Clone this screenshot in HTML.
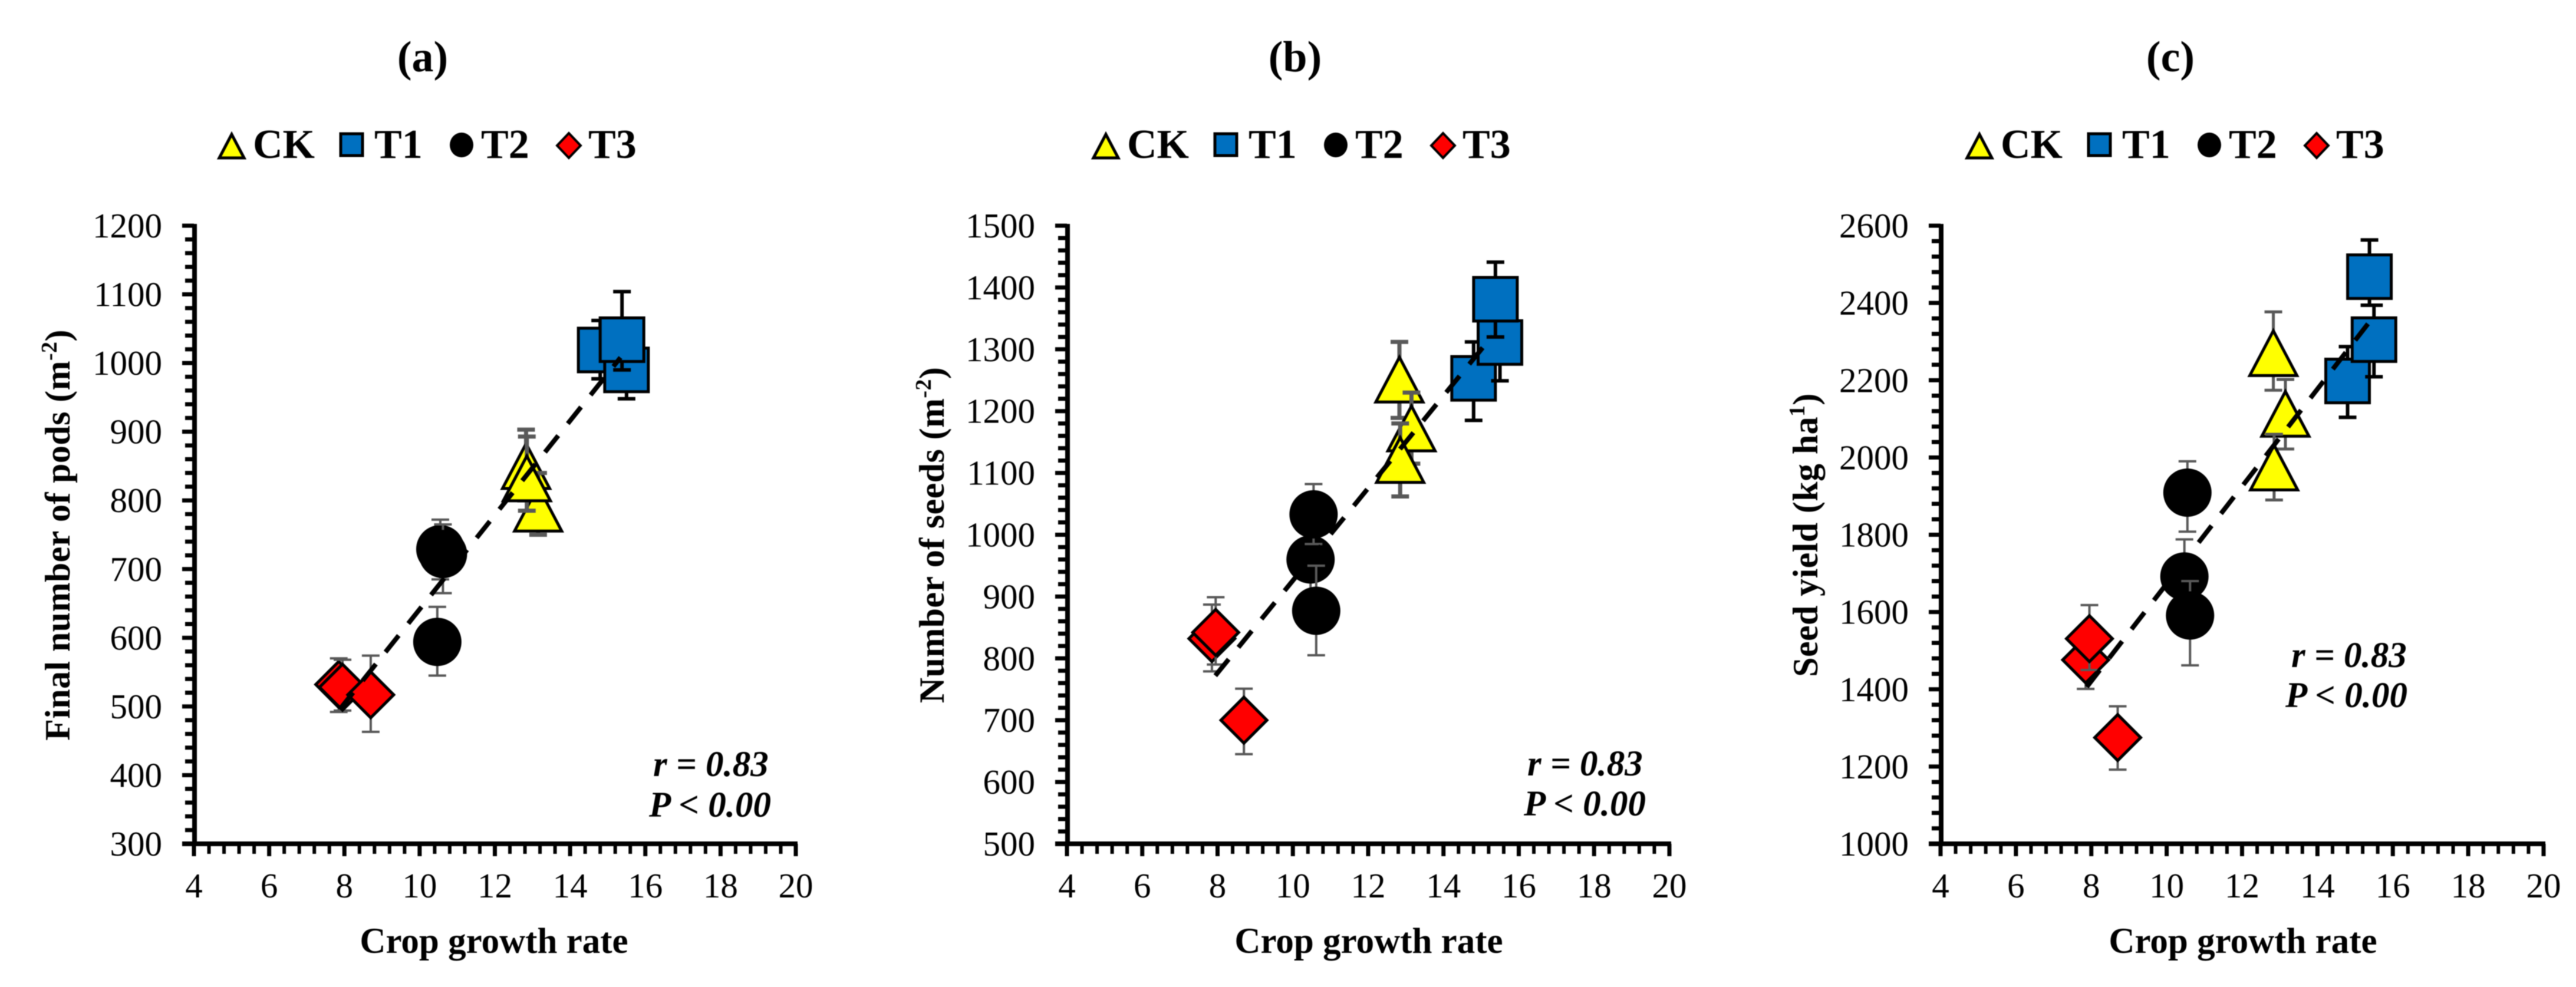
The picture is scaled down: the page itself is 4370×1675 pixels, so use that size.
<!DOCTYPE html>
<html lang="en">
<head>
<meta charset="utf-8">
<title>Crop growth rate correlations</title>
<style>
html,body{margin:0;padding:0;background:#fff;}
svg{display:block;filter:blur(0.8px);}
text{font-family:"Liberation Serif",serif;fill:#000;}
.panel-title{font-size:74px;font-weight:bold;text-anchor:middle;}
.legend-label{font-size:70px;font-weight:bold;}
.axis-title{font-size:61px;font-weight:bold;text-anchor:middle;}
.y-title{font-size:60px;font-weight:bold;text-anchor:middle;letter-spacing:0.4px;}
.tick{font-size:59px;}
.note{font-size:61px;font-weight:bold;font-style:italic;}
.sup{font-size:38px;}
</style>
</head>
<body>
<svg id="chart" xmlns="http://www.w3.org/2000/svg" width="4370" height="1675" viewBox="0 0 4370 1675">
  <rect width="4370" height="1675" fill="#fff"/>

  <text class="panel-title" x="717" y="121">(a)</text>
  <text class="panel-title" x="2197" y="121">(b)</text>
  <text class="panel-title" x="3682" y="121">(c)</text>

  <g>
    <polygon points="393,228 372,268 414,268" fill="#ffff00" stroke="#000" stroke-width="5"/>
    <text class="legend-label" x="429" y="268">CK</text>
    <rect x="578" y="227" width="37" height="37" fill="#0070c0" stroke="#000" stroke-width="5"/>
    <text class="legend-label" x="635" y="268">T1</text>
    <ellipse cx="783" cy="246" rx="20" ry="21" fill="#000"/>
    <text class="legend-label" x="816" y="268">T2</text>
    <polygon points="965,226 985,247 965,268 945,247" fill="#ff0000" stroke="#000" stroke-width="4"/>
    <text class="legend-label" x="998" y="268">T3</text>
  </g>
  <g transform="translate(1483,0)">
    <polygon points="393,228 372,268 414,268" fill="#ffff00" stroke="#000" stroke-width="5"/>
    <text class="legend-label" x="429" y="268">CK</text>
    <rect x="578" y="227" width="37" height="37" fill="#0070c0" stroke="#000" stroke-width="5"/>
    <text class="legend-label" x="635" y="268">T1</text>
    <ellipse cx="783" cy="246" rx="20" ry="21" fill="#000"/>
    <text class="legend-label" x="816" y="268">T2</text>
    <polygon points="965,226 985,247 965,268 945,247" fill="#ff0000" stroke="#000" stroke-width="4"/>
    <text class="legend-label" x="998" y="268">T3</text>
  </g>
  <g transform="translate(2965,0)">
    <polygon points="393,228 372,268 414,268" fill="#ffff00" stroke="#000" stroke-width="5"/>
    <text class="legend-label" x="429" y="268">CK</text>
    <rect x="578" y="227" width="37" height="37" fill="#0070c0" stroke="#000" stroke-width="5"/>
    <text class="legend-label" x="635" y="268">T1</text>
    <ellipse cx="783" cy="246" rx="20" ry="21" fill="#000"/>
    <text class="legend-label" x="816" y="268">T2</text>
    <polygon points="965,226 985,247 965,268 945,247" fill="#ff0000" stroke="#000" stroke-width="4"/>
    <text class="legend-label" x="998" y="268">T3</text>
  </g>

  <text class="y-title" transform="translate(118,908) rotate(-90)">Final number of pods (m<tspan class="sup" dy="-22">-2</tspan><tspan dy="22">)</tspan></text>
  <text class="y-title" transform="translate(1601,908) rotate(-90)">Number of seeds (m<tspan class="sup" dy="-22">-2</tspan><tspan dy="22">)</tspan></text>
  <text class="y-title" transform="translate(3083,908) rotate(-90)">Seed yield (kg ha<tspan class="sup" dy="-22">1</tspan><tspan dy="22">)</tspan></text>

  <text class="axis-title" x="838" y="1617">Crop growth rate</text>
  <text class="axis-title" x="2322" y="1617">Crop growth rate</text>
  <text class="axis-title" x="3805" y="1617">Crop growth rate</text>

  <g id="plots"></g>

  <text class="note" x="1108" y="1317">r = 0.83</text>
  <text class="note" x="1101" y="1386">P &lt; 0.00</text>
  <text class="note" x="2591" y="1316">r = 0.83</text>
  <text class="note" x="2585" y="1384">P &lt; 0.00</text>
  <text class="note" x="3887" y="1132">r = 0.83</text>
  <text class="note" x="3877" y="1200">P &lt; 0.00</text>
</svg>

<script>
// Shared x values: crop growth rate per treatment replicate
const ckX = [12.83, 13.15, 12.85];
const t1X = [14.8, 15.5, 15.38];
const t2X = [10.47, 10.55, 10.62];
const t3X = [7.85, 7.95, 8.7];
const xTicks = [4, 6, 8, 10, 12, 14, 16, 18, 20];

// Panel (a): final number of pods
const podsTicks = [300, 400, 500, 600, 700, 800, 900, 1000, 1100, 1200];
const podsCK = [850, 788, 832];
const podsCKHi = [903, 840, 893];
const podsCKLo = [800, 750, 785];
const podsT1 = [1019, 990, 1034];
const podsT1Hi = [1062, 1040, 1104];
const podsT1Lo = [977, 948, 990];
const podsT2 = [594, 729, 722];
const podsT2Hi = [645, 772, 765];
const podsT2Lo = [545, 685, 665];
const podsT3 = [532, 528, 517];
const podsT3Hi = [570, 568, 574];
const podsT3Lo = [492, 494, 463];
const podsTrendX = [7.88, 15.34];
const podsTrendY = [496, 1008];

// Panel (b): number of seeds
const seedsTicks = [500, 600, 700, 800, 900, 1000, 1100, 1200, 1300, 1400, 1500];
const seedsCK = [1251, 1172, 1121];
const seedsCKHi = [1312, 1230, 1180];
const seedsCKLo = [1189, 1115, 1062];
const seedsT1 = [1253, 1311, 1381];
const seedsT1Hi = [1312, 1370, 1441];
const seedsT1Lo = [1185, 1249, 1320];
const seedsT2 = [960, 1033, 877];
const seedsT2Hi = [1010, 1082, 950];
const seedsT2Lo = [905, 985, 805];
const seedsT3 = [832, 842, 700];
const seedsT3Hi = [887, 899, 751];
const seedsT3Lo = [779, 790, 645];
const seedsTrendX = [7.94, 15.3];
const seedsTrendY = [772, 1322];

// Panel (c): seed yield
const yieldTicks = [1000, 1200, 1400, 1600, 1800, 2000, 2200, 2400, 2600];
const yieldCK = [2270, 2113, 1974];
const yieldCKHi = [2377, 2202, 2060];
const yieldCKLo = [2174, 2022, 1890];
const yieldT1 = [2198, 2305, 2468];
const yieldT1Hi = [2287, 2394, 2563];
const yieldT1Lo = [2104, 2209, 2394];
const yieldT2 = [1692, 1909, 1591];
const yieldT2Hi = [1788, 1990, 1680];
const yieldT2Lo = [1600, 1808, 1462];
const yieldT3 = [1476, 1531, 1275];
const yieldT3Hi = [1560, 1618, 1356];
const yieldT3Lo = [1401, 1450, 1192];
const yieldTrendX = [7.88, 15.34];
const yieldTrendY = [1406, 2346];

const NS = 'http://www.w3.org/2000/svg';
const root = document.getElementById('plots');

function make(tag, attrs, parent) {
  const node = document.createElementNS(NS, tag);
  for (const k in attrs) node.setAttribute(k, attrs[k]);
  parent.appendChild(node);
  return node;
}

function drawAxes(g, sx, sy, box, yTicks) {
  const axisX = make('line', {x1: box.left + 1, x2: box.left + 1, y1: box.top - 3, y2: box.bottom + 4, stroke: '#000', 'stroke-width': 8}, g);
  
  
  const axisY = make('line', {x1: box.left - 20, x2: box.right + 3, y1: box.bottom, y2: box.bottom, stroke: '#000', 'stroke-width': 8}, g);
  
  

  const yStep = yTicks[1] - yTicks[0];
  yTicks.forEach(function (t, i) {
    const major = make('line', {x1: box.left - 20, x2: box.left, y1: sy(t), y2: sy(t), stroke: '#000', 'stroke-width': 7}, g);
    
    
    const label = make('text', {x: box.left - 54, y: sy(t) + 20, 'text-anchor': 'end', class: 'tick'}, g);
    label.textContent = String(t);
    
    
    if (i < yTicks.length - 1) {
      for (let m = 1; m < 5; m++) {
        const v = t + yStep * m / 5;
        const minor = make('line', {x1: box.left - 15, x2: box.left, y1: sy(v), y2: sy(v), stroke: '#000', 'stroke-width': 7}, g);
        
        
      }
    }
  });

  const xStep = xTicks[1] - xTicks[0];
  xTicks.forEach(function (t, i) {
    const major = make('line', {x1: sx(t), x2: sx(t), y1: box.bottom, y2: box.bottom + 21, stroke: '#000', 'stroke-width': 7}, g);
    
    
    const label = make('text', {x: sx(t), y: 1523, 'text-anchor': 'middle', class: 'tick'}, g);
    label.textContent = String(t);
    
    
    if (i < xTicks.length - 1) {
      for (let m = 1; m < 5; m++) {
        const v = t + xStep * m / 5;
        const minor = make('line', {x1: sx(v), x2: sx(v), y1: box.bottom, y2: box.bottom + 17, stroke: '#000', 'stroke-width': 6}, g);
        
        
      }
    }
  });
}

function drawError(g, x, y1, y2, color, width) {
  const stem = make('line', {x1: x, x2: x, y1: y1, y2: y2, stroke: color, 'stroke-width': width}, g);
  
  
  [y1, y2].forEach(function (yy) {
    const cap = make('line', {x1: x - 15, x2: x + 15, y1: yy, y2: yy, stroke: color, 'stroke-width': width}, g);
    
    
  });
}

function drawMarker(g, shape, cx, cy) {
  let m;
  if (shape === 'triangle') {
    m = make('polygon', {points: (cx) + ',' + (cy - 38) + ' ' + (cx + 40) + ',' + (cy + 38) + ' ' + (cx - 40) + ',' + (cy + 38), fill: '#ffff00', stroke: '#000', 'stroke-width': 5}, g);
  } else if (shape === 'square') {
    m = make('rect', {x: cx - 37, y: cy - 37, width: 74, height: 74, fill: '#0070c0', stroke: '#000', 'stroke-width': 5}, g);
  } else if (shape === 'circle') {
    m = make('circle', {cx: cx, cy: cy, r: 41, fill: '#000'}, g);
  } else {
    m = make('polygon', {points: cx + ',' + (cy - 39) + ' ' + (cx + 39) + ',' + cy + ' ' + cx + ',' + (cy + 39) + ' ' + (cx - 39) + ',' + cy, fill: '#ff0000', stroke: '#000', 'stroke-width': 5}, g);
  }
  
  
}

function drawSeries(g, sx, sy, xs, ys, hi, lo, shape, color, width) {
  xs.forEach(function (x, i) {
    drawError(g, sx(x), sy(hi[i]), sy(lo[i]), color, width);
    drawMarker(g, shape, sx(x), sy(ys[i]));
  });
}

function drawPanel(box, yTicks, series, trendX, trendY, panelName) {
  const g = make('g', {}, root);
  
  
  const sx = function (v) {
    return box.left + (v - xTicks[0]) / (xTicks[xTicks.length - 1] - xTicks[0]) * (box.right - box.left);
  };
  const sy = function (v) {
    return box.bottom - (v - yTicks[0]) / (yTicks[yTicks.length - 1] - yTicks[0]) * (box.bottom - box.top);
  };
  drawAxes(g, sx, sy, box, yTicks);
  series.forEach(function (s) {
    drawSeries(g, sx, sy, s[0], s[1], s[2], s[3], s[4], s[5], s[6]);
  });
  const trend = make('line', {x1: sx(trendX[0]), y1: sy(trendY[0]), x2: sx(trendX[1]), y2: sy(trendY[1]), stroke: '#000', 'stroke-width': 8, 'stroke-dasharray': '36 26'}, g);
  
  
}

const GREY = '#595959';
drawPanel({left: 329, right: 1350, top: 383, bottom: 1432}, podsTicks, [
  [ckX, podsCK, podsCKHi, podsCKLo, 'triangle', GREY, 7],
  [t1X, podsT1, podsT1Hi, podsT1Lo, 'square', '#000', 6],
  [t2X, podsT2, podsT2Hi, podsT2Lo, 'circle', GREY, 4],
  [t3X, podsT3, podsT3Hi, podsT3Lo, 'diamond', GREY, 4]
], podsTrendX, podsTrendY, 'panel-a-pods');
drawPanel({left: 1810, right: 2832, top: 383, bottom: 1432}, seedsTicks, [
  [ckX, seedsCK, seedsCKHi, seedsCKLo, 'triangle', GREY, 7],
  [t1X, seedsT1, seedsT1Hi, seedsT1Lo, 'square', '#000', 6],
  [t2X, seedsT2, seedsT2Hi, seedsT2Lo, 'circle', GREY, 4],
  [t3X, seedsT3, seedsT3Hi, seedsT3Lo, 'diamond', GREY, 4]
], seedsTrendX, seedsTrendY, 'panel-b-seeds');
drawPanel({left: 3292, right: 4315, top: 383, bottom: 1432}, yieldTicks, [
  [ckX, yieldCK, yieldCKHi, yieldCKLo, 'triangle', GREY, 5],
  [t1X, yieldT1, yieldT1Hi, yieldT1Lo, 'square', '#000', 6],
  [t2X, yieldT2, yieldT2Hi, yieldT2Lo, 'circle', GREY, 4],
  [t3X, yieldT3, yieldT3Hi, yieldT3Lo, 'diamond', GREY, 4]
], yieldTrendX, yieldTrendY, 'panel-c-yield');
</script>
</body>
</html>
